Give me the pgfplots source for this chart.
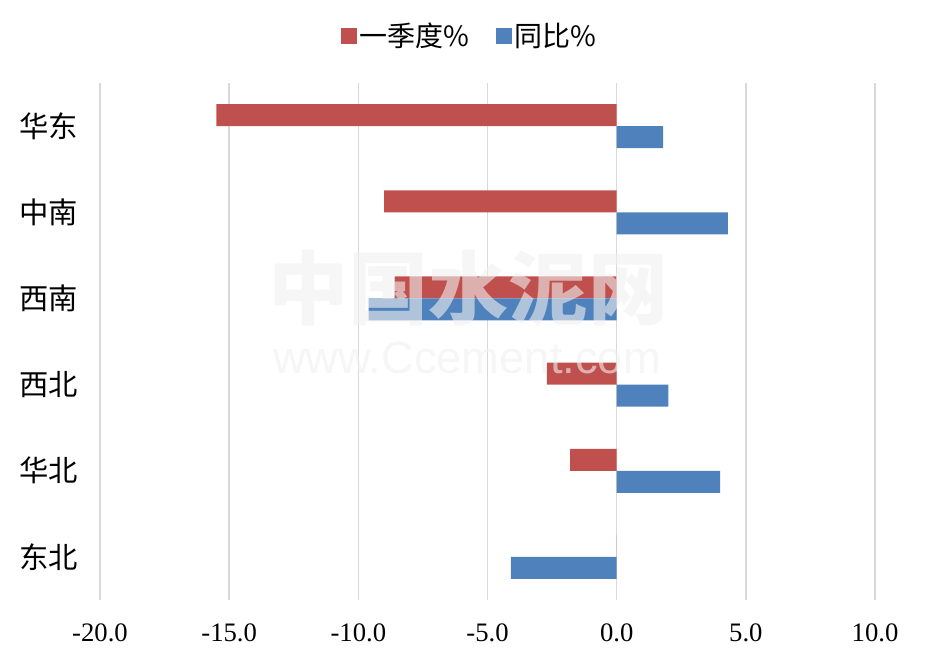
\documentclass[border=0pt]{standalone}
\usepackage{pgfplots}
\pgfplotsset{compat=1.18}
\usepackage{fontspec}
\setmainfont{Liberation Serif}
\newfontfamily\cjk{Noto Sans CJK SC}
\newfontfamily\wmsans{Liberation Sans}
\definecolor{cred}{HTML}{C0504D}
\definecolor{cblue}{HTML}{4F81BD}
\definecolor{gridc}{HTML}{D9D9D9}
\begin{document}
\begin{tikzpicture}[x=0.75pt,y=0.75pt]
\useasboundingbox (0,0) rectangle (927,664);
\begin{axis}[
  at={(75pt,48pt)}, anchor=south west,
  scale only axis, width=581.25pt, height=387.75pt,
  xmin=-20, xmax=10, ymin=-0.5, ymax=5.5,
  xtick={-20,-15,-10,-5,0,5,10},
  ytick={0,1,2,3,4,5},
  yticklabels={东北,华北,西北,西南,中南,华东},
  xmajorgrids, major grid style={gridc, line width=1.1pt},
  axis line style={draw=none},
  major tick length=0pt,
  xticklabel style={font=\fontsize{20}{20}\selectfont, anchor=north, yshift=-14pt},
  yticklabel style={font=\cjk\fontsize{22}{22}\selectfont, anchor=east, xshift=-13pt},
  /pgf/number format/.cd, fixed, fixed zerofill, precision=1, assume math mode=true,
  /pgfplots/.cd,
  xbar, bar width=16.5pt,
  legend style={at={(0.477,1.091)}, anchor=center, draw=none, fill=none,
    legend columns=2, font=\cjk\fontsize{21}{21}\selectfont,
    /tikz/every even column/.append style={column sep=18pt}},
  legend image code/.code={\fill[#1] (0pt,-6pt) rectangle (12pt,6pt);},
]
\addplot[fill=cred, draw=none, bar shift=8.25pt] coordinates {
  (-15.5,5) (-9.0,4) (-8.6,3) (-2.7,2) (-1.8,1) (0,0)};
\addlegendentry{一季度\%}
\addplot[fill=cblue, draw=none, bar shift=-8.25pt] coordinates {
  (1.8,5) (4.3,4) (-9.6,3) (2.0,2) (4.0,1) (-4.1,0)};
\addlegendentry{同比\%}
\end{axis}
% watermark
\node[text=gray!12, text opacity=0.6, font=\cjk\bfseries\fontsize{60}{60}\selectfont] at (468,376) {中国水泥网};
\node[text=gray!12, text opacity=0.6, font=\wmsans\fontsize{34}{34}\selectfont] at (467,306) {www.Ccement.com};
\end{tikzpicture}
\end{document}
